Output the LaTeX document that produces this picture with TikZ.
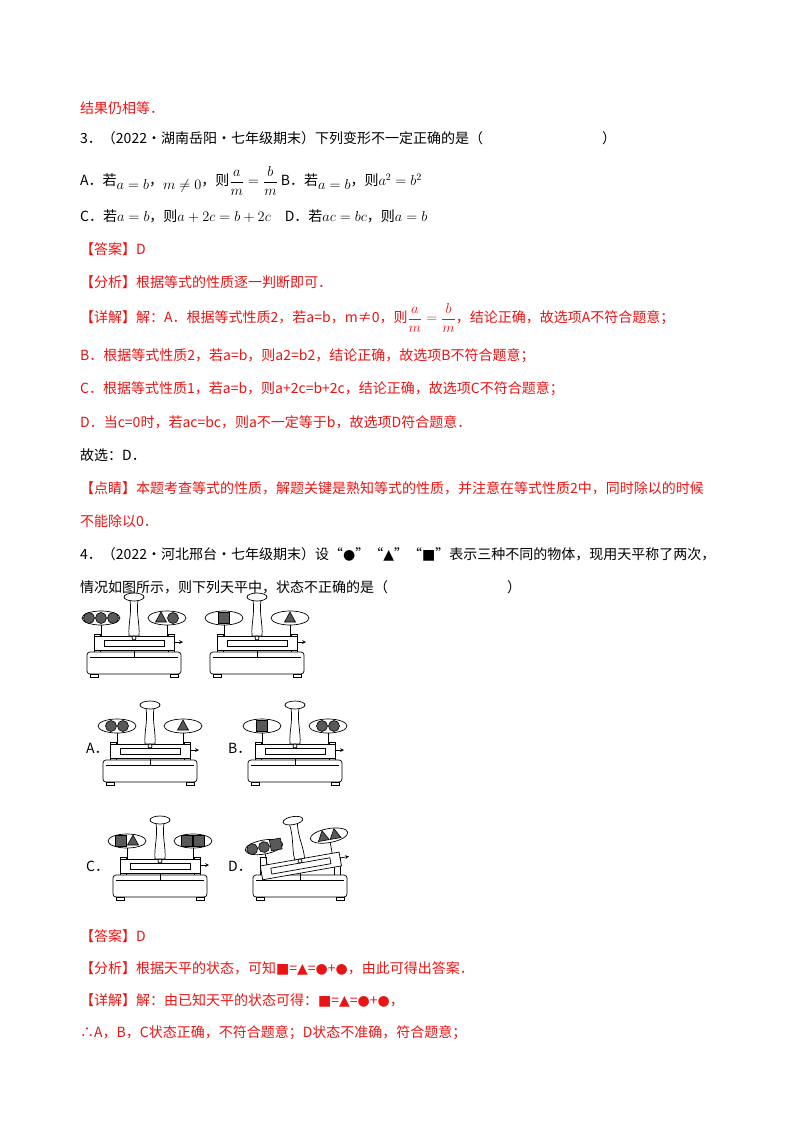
\documentclass[tikz,border=0pt]{standalone}
\usepackage{amsmath}
\usepackage{fontspec}
\setmainfont{Noto Sans CJK SC}
\newfontfamily\symf{DejaVu Sans}
\definecolor{rd}{RGB}{235,20,20}
\tikzset{
  tx/.style={anchor=west,inner sep=0pt,font=\fontsize{14}{16}\selectfont},
  rtx/.style={tx,text=rd},
  obj/.style={draw=black,fill=black!65,line width=0.6pt},
  part/.style={draw=black,line width=0.7pt,fill=white}
}
\newcommand{\circobj}[2]{\draw[obj] (#1,#2) circle (5.5);}
\newcommand{\sqobj}[2]{\draw[obj] (#1-5.5,#2-11) rectangle (#1+5.5,#2);}
\newcommand{\triobj}[2]{\draw[obj] (#1-5.5,#2) -- (#1+5.5,#2) -- (#1,#2-10) -- cycle;}
\newcommand{\balupper}[2]{%
  \draw[part] (-40,44) rectangle (40,58);
  \draw[part] (-30,48) rectangle (30,54);
  \draw[part] (-4,8) .. controls (-2,22) and (-6,32) .. (-5,44) -- (5,44) .. controls (6,32) and (2,22) .. (4,8) -- cycle;
  \draw[part] (0,5) ellipse (10 and 4);
  \draw[part] (0,46) circle (2);
  \draw[part] (-33,26) -- (-33,44); \draw[part] (33,26) -- (33,44);
  \draw[part] (-33,26) ellipse (19 and 7);
  \draw[part] (33,26) ellipse (19 and 7);
  \begin{scope}[shift={(-33,26)}]#1\end{scope}
  \begin{scope}[shift={(33,26)}]#2\end{scope}
  \draw[line width=0.7pt,-stealth] (41,50) -- (49,50);
}
\newcommand{\balbase}{%
  \draw[part] (-40,42) rectangle (-34,62); \draw[part] (34,42) rectangle (40,62);
  \draw[part,rounded corners=3] (-47,60) rectangle (47,82);
  \draw[line width=0.6pt] (-44,65) -- (44,65);
  \draw[line width=0.6pt] (0,58) -- (0,65);
  \draw[part] (-44,82) rectangle (-36,85); \draw[part] (36,82) rectangle (44,85);
}
\newcommand{\bal}[5]{%
  \begin{scope}[shift={(#1,#2)}]
  \balbase
  \begin{scope}[rotate around={#5:(0,46)}]\balupper{#3}{#4}\end{scope}
  \end{scope}}
\begin{document}
\begin{tikzpicture}[x=1pt,y=-1pt]
\useasboundingbox[fill=white] (0,0) rectangle (800,1132);
\node[rtx] (l1) at (80,108) {结果仍相等．};
\node[tx] (l2) at (80,138) {3．（2022·湖南岳阳·七年级期末）下列变形不一定正确的是（\hspace{8.5em}）};
\node[tx] (l3) at (80,181) {A．若\raisebox{-4pt}{\(a=b\)}，\raisebox{-4pt}{\(m\neq0\)}，则\(\dfrac{a}{m}=\dfrac{b}{m}\) B．若\raisebox{-4pt}{\(a=b\)}，则\(a^2=b^2\)};
\node[tx] (l4) at (80,216) {C．若\(a=b\)，则\(a+2c=b+2c\)\quad D．若\(ac=bc\)，则\(a=b\)};
\node[rtx] (l5) at (80,249) {【答案】D};
\node[rtx] (l6) at (80,282) {【分析】根据等式的性质逐一判断即可．};
\node[rtx] (l7) at (80,318) {【详解】解：A．根据等式性质2，若a=b，m≠0，则\(\dfrac{a}{m}=\dfrac{b}{m}\)，结论正确，故选项A不符合题意；};
\node[rtx] (l8) at (80,356) {B．根据等式性质2，若a=b，则a2=b2，结论正确，故选项B不符合题意；};
\node[rtx] (l9) at (80,389) {C．根据等式性质1，若a=b，则a+2c=b+2c，结论正确，故选项C不符合题意；};
\node[rtx] (l10) at (80,422) {D．当c=0时，若ac=bc，则a不一定等于b，故选项D符合题意．};
\node[tx] (l11) at (80,455) {故选：D．};
\node[rtx] (l12) at (80,488) {【点睛】本题考查等式的性质，解题关键是熟知等式的性质，并注意在等式性质2中，同时除以的时候};
\node[rtx] (l13) at (80,521) {不能除以0．};
\node[tx] (l14) at (80,554) {4．（2022·河北邢台·七年级期末）设“{\symf●}”“{\symf▲}”“{\symf■}”表示三种不同的物体，现用天平称了两次，};
\node[tx] (l15) at (80,587) {情况如图所示，则下列天平中，状态不正确的是（\hspace{8.5em}）};
\bal{134}{592}{\circobj{-12}{0}\circobj{0}{0}\circobj{12}{0}}{\triobj{-6}{4}\circobj{6}{0}}{0}
\bal{257}{592}{\sqobj{0}{5}}{\triobj{0}{4}}{0}
\bal{150}{700}{\circobj{-6}{0}\circobj{6}{0}}{\triobj{0}{4}}{0}
\bal{295}{700}{\sqobj{0}{5}}{\circobj{-6}{0}\circobj{6}{0}}{0}
\bal{160}{815}{\sqobj{-6}{5}\triobj{6}{4}}{\sqobj{-6}{5}\sqobj{6}{5}}{0}
\bal{300}{815}{\circobj{-12}{0}\circobj{0}{0}\sqobj{12}{5}}{\triobj{-6}{4}\triobj{6}{4}}{10}
\node[tx] (la) at (86,748) {A．};
\node[tx] (lb) at (228,748) {B．};
\node[tx] (lc) at (86,866) {C．};
\node[tx] (ld) at (228,866) {D．};
\node[rtx] (m1) at (80,936) {【答案】D};
\node[rtx] (m2) at (80,968) {【分析】根据天平的状态，可知{\symf■}={\symf▲}={\symf●}+{\symf●}，由此可得出答案．};
\node[rtx] (m3) at (80,1000) {【详解】解：由已知天平的状态可得：{\symf■}={\symf▲}={\symf●}+{\symf●}，};
\node[rtx] (m4) at (80,1033) {∴A，B，C状态正确，不符合题意；D状态不准确，符合题意；};
\end{tikzpicture}
\end{document}
